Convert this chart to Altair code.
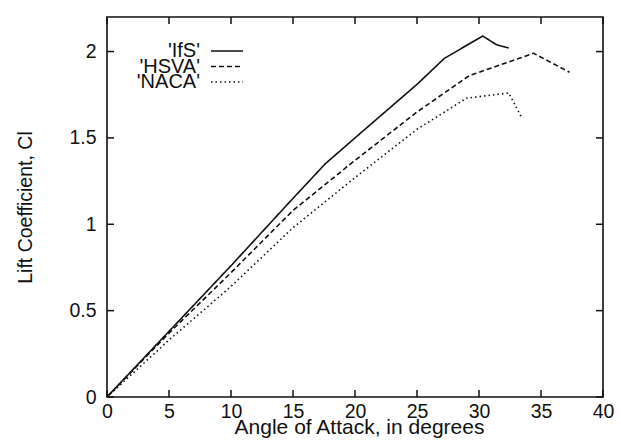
import altair as alt
import pandas as pd

# ---- data ----
series_names = ["IfS", "HSVA", "NACA"]

aoa_ifs = [0, 5, 10, 15, 17.6, 20, 25, 27.2, 30.3, 31.4, 32.4]
cl_ifs = [0, 0.38, 0.76, 1.15, 1.35, 1.50, 1.81, 1.96, 2.09, 2.04, 2.02]

aoa_hsva = [0, 5, 10, 15, 20, 25, 29.2, 34.4, 37.3]
cl_hsva = [0, 0.37, 0.72, 1.08, 1.37, 1.65, 1.86, 1.99, 1.88]

aoa_naca = [0, 5, 10, 15, 20, 25, 29, 32.4, 33.5]
cl_naca = [0, 0.33, 0.64, 0.98, 1.27, 1.55, 1.73, 1.76, 1.61]

x_ticks = [0, 5, 10, 15, 20, 25, 30, 35, 40]
y_ticks = [0, 0.5, 1, 1.5, 2]
x_domain = [0, 40]
y_domain = [0, 2.2]

# ---- build table ----
rows = []
for name, xs, ys in [("IfS", aoa_ifs, cl_ifs), ("HSVA", aoa_hsva, cl_hsva), ("NACA", aoa_naca, cl_naca)]:
    for i, (a, c) in enumerate(zip(xs, ys)):
        rows.append({"series": name, "aoa": a, "cl": c, "order": i})
df = pd.DataFrame(rows)

W, H = 496, 380
FONT = "Liberation Sans"
TICK_FS = 19.5
dash_range = [[1, 0], [5, 3], [1.5, 3]]

xscale = alt.Scale(domain=x_domain, nice=False, zero=False)
yscale = alt.Scale(domain=y_domain, nice=False, zero=False)

lines = alt.Chart(df).mark_line(color="#111", strokeWidth=1.6, clip=True).encode(
    x=alt.X("aoa:Q", scale=xscale,
            axis=alt.Axis(values=x_ticks, format="~g", title="Angle of Attack, in degrees",
                          grid=False, ticks=False, tickSize=0, domain=False, labelPadding=5,
                          labelFont=FONT, labelFontSize=TICK_FS, labelColor="#111",
                          labelFlush=False,
                          titleFont=FONT, titleFontSize=21, titleFontWeight="normal",
                          titleColor="#111", titleX=252, titleY=30,
                          titleBaseline="middle", titleAlign="center")),
    y=alt.Y("cl:Q", scale=yscale,
            axis=alt.Axis(values=y_ticks, format="~g", title="Lift Coefficient, Cl",
                          grid=False, ticks=False, tickSize=0, domain=False, labelPadding=11,
                          labelFont=FONT, labelFontSize=TICK_FS, labelColor="#111",
                          labelFlush=False,
                          titleFont=FONT, titleFontSize=19.5, titleFontWeight="normal",
                          titleColor="#111", titleX=-82, titleY=190, titleAngle=270,
                          titleBaseline="middle", titleAlign="center")),
    strokeDash=alt.StrokeDash("series:N", scale=alt.Scale(domain=series_names, range=dash_range),
                              legend=None),
    detail="series:N",
    order="order:Q",
)

# inward ticks (gnuplot style) on all four sides
xt = pd.DataFrame({"v": x_ticks})
yt = pd.DataFrame({"v": y_ticks})
tick_style = dict(color="#111", strokeWidth=1.5)
xt_bottom = alt.Chart(xt).mark_rule(**tick_style).encode(
    x=alt.X("v:Q", scale=xscale), y=alt.value(H), y2=alt.value(H - 7))
xt_top = alt.Chart(xt).mark_rule(**tick_style).encode(
    x=alt.X("v:Q", scale=xscale), y=alt.value(0), y2=alt.value(7))
yt_left = alt.Chart(yt).mark_rule(**tick_style).encode(
    y=alt.Y("v:Q", scale=yscale), x=alt.value(0), x2=alt.value(7))
yt_right = alt.Chart(yt).mark_rule(**tick_style).encode(
    y=alt.Y("v:Q", scale=yscale), x=alt.value(W), x2=alt.value(W - 7))

# gnuplot-style key: label right-aligned, line sample to its right
key_layers = []
for i, name in enumerate(series_names):
    ky = 34 + i * 15.5
    kdf = pd.DataFrame({"label": ["'" + name + "'"], "series": [name]})
    key_layers.append(
        alt.Chart(kdf).mark_text(align="right", baseline="middle", font=FONT,
                                 fontSize=20, color="#111").encode(
            text="label:N", x=alt.value(93), y=alt.value(ky))
    )
    key_layers.append(
        alt.Chart(kdf).mark_rule(color="#111", strokeWidth=1.6,
                                 strokeDash=dash_range[i]).encode(
            x=alt.value(104), x2=alt.value(136), y=alt.value(ky))
    )

chart = alt.layer(lines, xt_bottom, xt_top, yt_left, yt_right, *key_layers).properties(
    width=W, height=H,
    autosize=alt.AutoSizeParams(type="none"),
    padding={"left": 107, "top": 17, "right": 18, "bottom": 46},
    background="white",
).configure_view(stroke="#111", strokeWidth=1.6)

chart.save("out.html", embed_options={"renderer": "svg", "actions": False})
